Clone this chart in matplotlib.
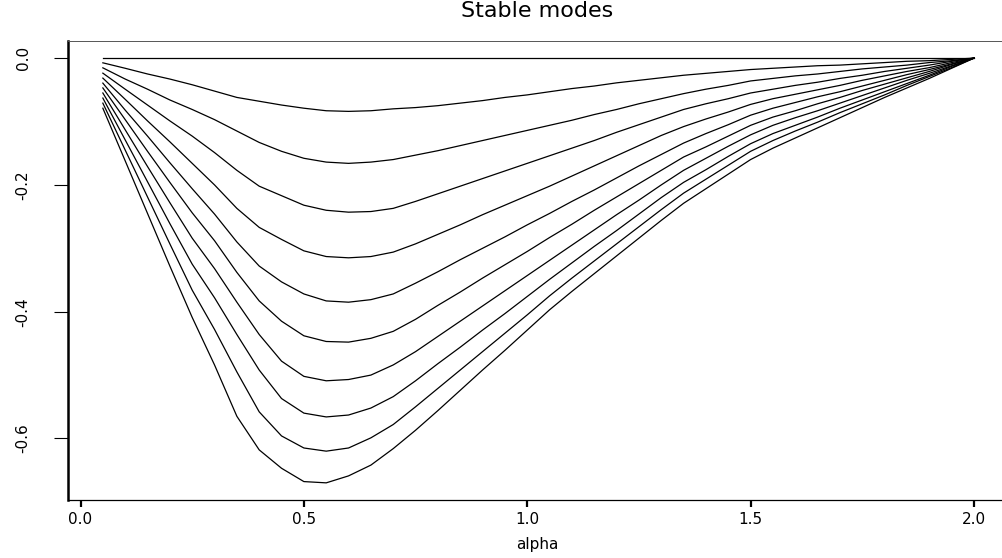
import numpy as np
import matplotlib.pyplot as plt

plt.rcParams["font.family"] = ["DejaVu Sans"]

alpha = np.round(np.arange(1, 41) * 0.05, 2)
beta = [0.0, 0.1, 0.2, 0.3, 0.4, 0.5, 0.6, 0.7, 0.8, 0.9, 1.0]

mode_b00 = [0.0] * 40
mode_b01 = [-0.0074, -0.016, -0.025, -0.033, -0.042, -0.052, -0.062, -0.068, -0.074, -0.079,
            -0.083, -0.084, -0.083, -0.080, -0.078, -0.075, -0.071, -0.067, -0.062, -0.058,
            -0.053, -0.048, -0.044, -0.039, -0.035, -0.031, -0.027, -0.024, -0.021, -0.018,
            -0.016, -0.014, -0.012, -0.011, -0.009, -0.007, -0.005, -0.004, -0.002, 0.0]
mode_b02 = [-0.0153, -0.033, -0.049, -0.066, -0.081, -0.097, -0.115, -0.133, -0.147, -0.158,
            -0.164, -0.166, -0.164, -0.160, -0.153, -0.146, -0.138, -0.130, -0.122, -0.114,
            -0.106, -0.098, -0.089, -0.081, -0.072, -0.064, -0.056, -0.049, -0.043, -0.036,
            -0.032, -0.028, -0.025, -0.021, -0.017, -0.014, -0.011, -0.007, -0.004, 0.0]
mode_b03 = [-0.0237, -0.049, -0.074, -0.099, -0.123, -0.149, -0.177, -0.202, -0.217, -0.232,
            -0.240, -0.243, -0.242, -0.237, -0.226, -0.214, -0.202, -0.190, -0.178, -0.166,
            -0.154, -0.142, -0.130, -0.117, -0.105, -0.093, -0.081, -0.072, -0.064, -0.055,
            -0.049, -0.043, -0.038, -0.032, -0.027, -0.021, -0.016, -0.011, -0.005, 0.0]
mode_b04 = [-0.0315, -0.065, -0.099, -0.132, -0.166, -0.200, -0.237, -0.267, -0.286, -0.304,
            -0.313, -0.315, -0.313, -0.306, -0.293, -0.278, -0.263, -0.247, -0.232, -0.217,
            -0.202, -0.186, -0.170, -0.154, -0.138, -0.122, -0.108, -0.096, -0.085, -0.073,
            -0.064, -0.057, -0.050, -0.043, -0.035, -0.028, -0.021, -0.015, -0.007, 0.0]
mode_b05 = [-0.0394, -0.082, -0.123, -0.165, -0.206, -0.246, -0.290, -0.328, -0.353, -0.372,
            -0.383, -0.385, -0.381, -0.372, -0.355, -0.337, -0.318, -0.300, -0.282, -0.263,
            -0.245, -0.226, -0.208, -0.189, -0.170, -0.152, -0.134, -0.119, -0.105, -0.090,
            -0.079, -0.070, -0.061, -0.053, -0.044, -0.035, -0.026, -0.018, -0.009, 0.0]
mode_b06 = [-0.047, -0.097, -0.147, -0.196, -0.244, -0.288, -0.338, -0.383, -0.415, -0.438,
            -0.447, -0.448, -0.442, -0.431, -0.412, -0.390, -0.369, -0.347, -0.326, -0.305,
            -0.283, -0.262, -0.240, -0.219, -0.198, -0.177, -0.156, -0.140, -0.123, -0.106,
            -0.093, -0.083, -0.072, -0.062, -0.051, -0.041, -0.031, -0.021, -0.010, 0.0]
mode_b07 = [-0.055, -0.113, -0.171, -0.228, -0.284, -0.332, -0.385, -0.436, -0.478, -0.502,
            -0.509, -0.507, -0.500, -0.484, -0.463, -0.439, -0.415, -0.391, -0.367, -0.343,
            -0.319, -0.295, -0.271, -0.247, -0.224, -0.200, -0.177, -0.158, -0.139, -0.121,
            -0.106, -0.094, -0.083, -0.071, -0.059, -0.047, -0.035, -0.024, -0.012, 0.0]
mode_b08 = [-0.063, -0.129, -0.195, -0.261, -0.325, -0.378, -0.436, -0.492, -0.537, -0.560,
            -0.566, -0.563, -0.552, -0.534, -0.509, -0.482, -0.456, -0.429, -0.403, -0.376,
            -0.349, -0.323, -0.297, -0.272, -0.246, -0.220, -0.196, -0.176, -0.155, -0.135,
            -0.119, -0.106, -0.093, -0.079, -0.066, -0.053, -0.040, -0.027, -0.013, 0.0]
mode_b09 = [-0.071, -0.145, -0.219, -0.293, -0.366, -0.428, -0.495, -0.558, -0.596, -0.615,
            -0.620, -0.615, -0.599, -0.578, -0.550, -0.521, -0.492, -0.463, -0.434, -0.405,
            -0.375, -0.347, -0.320, -0.293, -0.266, -0.239, -0.213, -0.191, -0.169, -0.147,
            -0.130, -0.115, -0.101, -0.086, -0.072, -0.058, -0.043, -0.029, -0.015, 0.0]
mode_b10 = [-0.079, -0.162, -0.245, -0.328, -0.409, -0.484, -0.565, -0.618, -0.647, -0.668,
            -0.670, -0.659, -0.642, -0.616, -0.587, -0.556, -0.524, -0.492, -0.461, -0.429,
            -0.397, -0.368, -0.340, -0.312, -0.284, -0.256, -0.229, -0.206, -0.183, -0.160,
            -0.142, -0.126, -0.110, -0.094, -0.078, -0.062, -0.047, -0.032, -0.016, 0.0]

modes = [mode_b00, mode_b01, mode_b02, mode_b03, mode_b04, mode_b05,
         mode_b06, mode_b07, mode_b08, mode_b09, mode_b10]

xticks = [0.0, 0.5, 1.0, 1.5, 2.0]
yticks = [-0.6, -0.4, -0.2, 0.0]

fig = plt.figure(figsize=(10.03, 5.58), dpi=100)
ax = fig.add_axes([0.0678, 0.104, 0.938, 0.8225])

for m in modes:
    ax.plot(alpha, m, color="black", lw=0.9)

ax.set_xlim(-0.028, 2.078)
ax.set_ylim(-0.697, 0.027)

# R-style box, right edge falls outside the picture
ax.spines["right"].set_visible(False)
ax.spines["top"].set_linewidth(0.7)
ax.spines["top"].set_color("#555555")
ax.spines["bottom"].set_linewidth(0.9)
ax.spines["left"].set_linewidth(1.8)

ax.set_xticks(xticks)
ax.set_xticklabels([f"{t:.1f}" for t in xticks], fontsize=11)
ax.set_yticks(yticks)
ax.set_yticklabels([f"{t:.1f}" for t in yticks], fontsize=11, rotation=90, va="center")
ax.tick_params(axis="x", length=5, width=1.6, pad=4)
ax.tick_params(axis="y", length=10, width=0.8, pad=17)

fig.text(0.536, 1 - 545 / 558, "alpha", fontsize=11, ha="center", va="center")
fig.text(0.536, 1 - 11 / 558, "Stable modes", fontsize=16, ha="center", va="center")

fig.savefig("out.png", dpi=100)
